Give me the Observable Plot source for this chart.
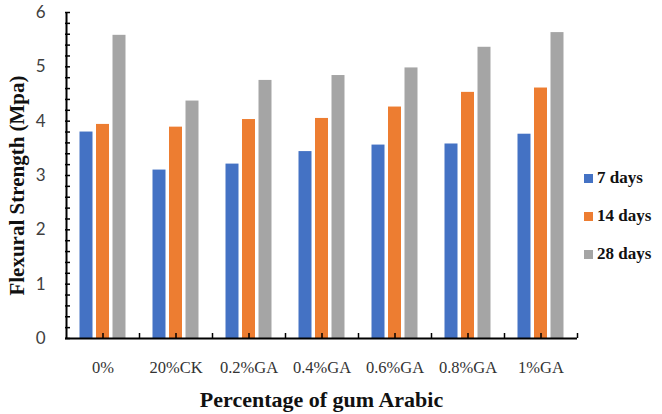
<!DOCTYPE html>
<html>
<head>
<meta charset="utf-8">
<script src="https://cdn.jsdelivr.net/npm/d3@7"></script>
<script src="https://cdn.jsdelivr.net/npm/@observablehq/plot@0.6"></script>
<style>
  html, body { margin: 0; padding: 0; background: #fff; }
  #wrap { position: relative; width: 662px; height: 414px; overflow: hidden; }
  #legend { position: absolute; left: 584px; top: 166px; font-family: "Liberation Serif", serif; font-weight: bold; font-size: 17px; color: #111; }
  #legend .item { display: flex; align-items: center; height: 24px; margin-bottom: 14px; white-space: nowrap; }
  #legend .sw { width: 9px; height: 9px; margin-right: 4px; }
</style>
</head>
<body>
<div id="wrap"><div id="legend"></div></div>
<script>
const categories = ["0%", "20%CK", "0.2%GA", "0.4%GA", "0.6%GA", "0.8%GA", "1%GA"];
const seriesNames = ["7 days", "14 days", "28 days"];
const days7  = [3.80, 3.10, 3.21, 3.44, 3.56, 3.58, 3.76];
const days14 = [3.94, 3.89, 4.03, 4.05, 4.26, 4.53, 4.61];
const days28 = [5.58, 4.37, 4.75, 4.84, 4.98, 5.36, 5.63];
const colors = ["#4472C4", "#ED7D31", "#A5A5A5"];
const yTicks = [0, 1, 2, 3, 4, 5, 6];
const yMinorTicks = d3.range(0, 31).map(i => i / 5);
const xTitle = "Percentage of gum Arabic";
const yTitle = "Flexural Strength (Mpa)";

const seriesValues = [days7, days14, days28];
const rows = seriesValues.map(vals => categories.map((c, i) => ({category: c, value: vals[i]})));

const band = 73;
const half = band / 2;
const offsets = [-16.5, 0, 16.5];

const chart = Plot.plot({
  width: 662,
  height: 414,
  marginLeft: 65,
  marginRight: 85,
  marginTop: 12,
  marginBottom: 76,
  x: {domain: categories, padding: 0, axis: null},
  y: {domain: [0, 6], axis: null},
  marks: [
    ...rows.map((r, k) => Plot.barY(r, {x: "category", y: "value", fill: colors[k], insetLeft: 30, insetRight: 30, dx: offsets[k]})),
    Plot.axisY({ticks: yMinorTicks, tickSize: -5, text: null, label: null, stroke: "#000", strokeWidth: 1.5}),
    Plot.axisY({ticks: yTicks, tickSize: 0, tickPadding: 20, fontSize: 17, fontFamily: "Lato, sans-serif", fill: "#404040", label: null, tickFormat: d => String(d)}),
    Plot.axisX({ticks: categories, tickSize: -5, text: null, label: null, stroke: "#000", strokeWidth: 1.5}),
    Plot.axisX({ticks: categories, tickSize: -5, text: null, label: null, stroke: "#000", strokeWidth: 1.5, dx: half}),
    Plot.axisX({ticks: categories, tickSize: 0, tickPadding: 23, fontSize: 16.5, fontFamily: "Liberation Serif, serif", fill: "#333", label: null}),
    Plot.ruleX([categories[0]], {dx: -half, stroke: "#000", strokeWidth: 2}),
    Plot.ruleY([0], {stroke: "#000", strokeWidth: 2}),
    Plot.text([xTitle], {frameAnchor: "bottom", textAnchor: "middle", dy: 68, fontSize: 22, fontWeight: "bold", fontFamily: "Liberation Serif, serif", fill: "#111"}),
    Plot.text([yTitle], {frameAnchor: "left", textAnchor: "middle", dx: -48, dy: 10, rotate: -90, fontSize: 21, fontWeight: "bold", fontFamily: "Liberation Serif, serif", fill: "#111"})
  ]
});
document.getElementById("wrap").prepend(chart);

const legend = document.getElementById("legend");
seriesNames.forEach((name, k) => {
  const item = document.createElement("div");
  item.className = "item";
  const sw = document.createElement("span");
  sw.className = "sw";
  sw.style.background = colors[k];
  const label = document.createElement("span");
  label.textContent = name;
  item.appendChild(sw);
  item.appendChild(label);
  legend.appendChild(item);
});
</script>
</body>
</html>
